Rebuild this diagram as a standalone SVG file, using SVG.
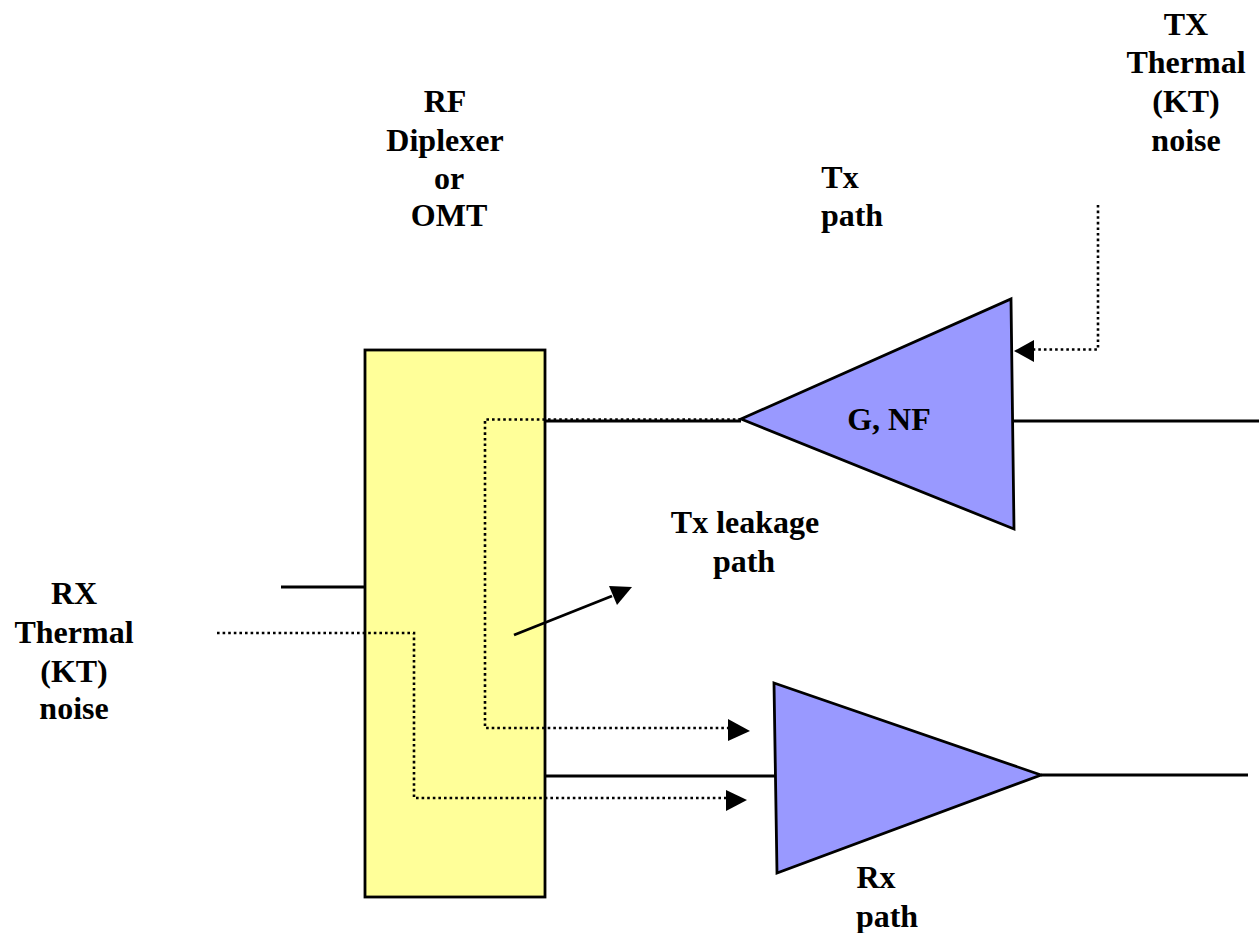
<svg xmlns="http://www.w3.org/2000/svg" width="1259" height="933" viewBox="0 0 1259 933">
<style>
text{font-family:"Liberation Serif","Times New Roman",serif;font-weight:bold;font-size:32px;fill:#000;text-anchor:middle}
.s{fill:none;stroke:#000;stroke-width:2.8}
.d{fill:none;stroke:#000;stroke-width:2.6;stroke-dasharray:2.6 3}
.ar{fill:#000;stroke:none}
</style>
<rect width="1259" height="933" fill="#fff"/>
<g id="diplexer"><rect x="365" y="350" width="180" height="547" fill="#ffff99" stroke="#000" stroke-width="2.8"/></g>
<g id="tx-amp"><polygon points="741,419 1011,299 1014,529" fill="#9999ff" stroke="#000" stroke-width="2.8"/><text x="889" y="430">G, NF</text></g>
<g id="rx-amp"><polygon points="774,683 1041,775 777,873" fill="#9999ff" stroke="#000" stroke-width="2.8"/></g>
<g id="connectors">
<path class="s" d="M281 587H365"/>
<path class="s" d="M545 421H741"/>
<path class="s" d="M1014 421H1259"/>
<path class="s" d="M545 776H775"/>
<path class="s" d="M1041 775H1248"/>
<path class="s" d="M514 635L612 596"/>
<polygon class="ar" points="632,587 609,586 617,605"/>
<path class="d" d="M741 419.5H485V728H728"/>
<polygon class="ar" points="750,731 728,719 728,741"/>
<path class="d" d="M217 633H414V798H726"/>
<polygon class="ar" points="747,800 726,790 726,811"/>
<path class="d" d="M1098 205V349.5H1034"/>
<polygon class="ar" points="1014,351 1034,340 1034,362"/>
</g>
<g id="label-rf"><text x="445" y="112">RF</text><text x="445" y="151">Diplexer</text><text x="449" y="189">or</text><text x="449" y="226">OMT</text></g>
<g id="label-txth"><text x="1186" y="35">TX</text><text x="1186" y="73">Thermal</text><text x="1186" y="112">(KT)</text><text x="1186" y="151">noise</text></g>
<g id="label-txpath"><text x="840" y="188">Tx</text><text x="852" y="226">path</text></g>
<g id="label-leak"><text x="745" y="533">Tx leakage</text><text x="744" y="572">path</text></g>
<g id="label-rxth"><text x="74" y="604">RX</text><text x="74" y="643">Thermal</text><text x="74" y="682">(KT)</text><text x="74" y="719">noise</text></g>
<g id="label-rxpath"><text x="876" y="888">Rx</text><text x="887" y="927">path</text></g>
</svg>
